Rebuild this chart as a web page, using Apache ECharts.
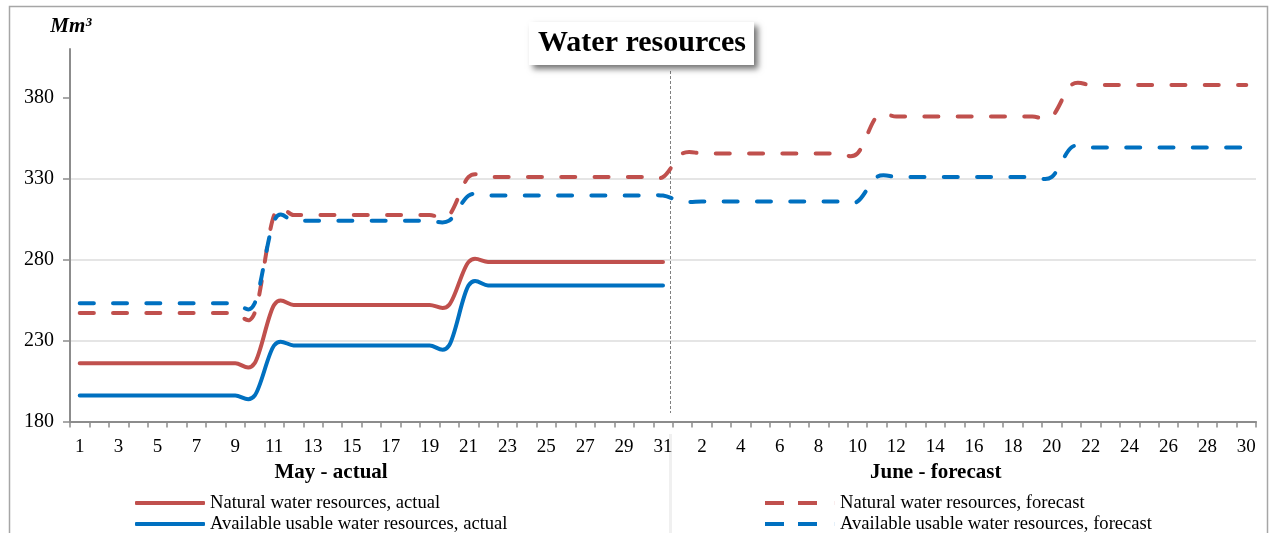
<!DOCTYPE html>
<html>
<head>
<meta charset="utf-8">
<title>Water resources</title>
<script src="https://cdn.jsdelivr.net/npm/echarts@6/dist/echarts.min.js"></script>
<style>
  html, body { margin: 0; padding: 0; background: #ffffff; }
  #chart { width: 1271px; height: 533px; }
</style>
</head>
<body>
<div id="chart"></div>
<script>
// Day labels for the two months on the category axis
const mayDays = ['1','2','3','4','5','6','7','8','9','10','11','12','13','14','15','16','17','18','19','20','21','22','23','24','25','26','27','28','29','30','31'];
const juneDays = ['1','2','3','4','5','6','7','8','9','10','11','12','13','14','15','16','17','18','19','20','21','22','23','24','25','26','27','28','29','30'];

// Volumes, Mm3 — actual values cover May only
const naturalActual = [
  216, 216, 216, 216, 216, 216, 216, 216, 216, 216,
  252, 252, 252, 252, 252, 252, 252, 252, 252, 252,
  278.5, 278.5, 278.5, 278.5, 278.5, 278.5, 278.5, 278.5, 278.5, 278.5, 278.5
];
const availableActual = [
  196, 196, 196, 196, 196, 196, 196, 196, 196, 196,
  227, 227, 227, 227, 227, 227, 227, 227, 227, 227,
  264, 264, 264, 264, 264, 264, 264, 264, 264, 264, 264
];
// Forecast values: May then June
const naturalForecast = [
  247, 247, 247, 247, 247, 247, 247, 247, 247, 247,
  307.5, 307.5, 307.5, 307.5, 307.5, 307.5, 307.5, 307.5, 307.5, 307.5,
  331, 331, 331, 331, 331, 331, 331, 331, 331, 331, 331,
  345.5, 345.5, 345.5, 345.5, 345.5, 345.5, 345.5, 345.5, 345.5, 345.5,
  368.3, 368.3, 368.3, 368.3, 368.3, 368.3, 368.3, 368.3, 368.3, 368.3,
  387.8, 387.8, 387.8, 387.8, 387.8, 387.8, 387.8, 387.8, 387.8, 387.8
];
const availableForecast = [
  253, 253, 253, 253, 253, 253, 253, 253, 253, 253,
  304, 304, 304, 304, 304, 304, 304, 304, 304, 304,
  319.5, 319.5, 319.5, 319.5, 319.5, 319.5, 319.5, 319.5, 319.5, 319.5, 319.5,
  315.8, 315.8, 315.8, 315.8, 315.8, 315.8, 315.8, 315.8, 315.8, 315.8,
  331, 331, 331, 331, 331, 331, 331, 331, 331, 331,
  349.2, 349.2, 349.2, 349.2, 349.2, 349.2, 349.2, 349.2, 349.2, 349.2
];

const yTicks = [180, 230, 280, 330, 380];
const seriesNames = [
  'Natural water resources, actual',
  'Available usable water resources, actual',
  'Natural water resources, forecast',
  'Available usable water resources, forecast'
];
const monthTitles = ['May - actual', 'June - forecast'];

const RED = '#C0504D';
const BLUE = '#0070C0';
const SERIF = '"Liberation Serif", "DejaVu Serif", serif';
const DASH = [14, 19.3];
// Legend glyphs: a solid bar and two dashes inside a 70px wide box
const ICON_SOLID = 'roundRect';
const ICON_DASHED = 'path://M0,0 H19 V4 H0 Z M33,0 H52 V4 H33 Z M69.9,0 H70 V4 H69.9 Z';

const categories = mayDays.map(d => 'May ' + d).concat(juneDays.map(d => 'Jun ' + d));
const dayLabel = categories.map(c => c.split(' ')[1]);

const chart = echarts.init(document.getElementById('chart'), null, { renderer: 'canvas' });

// Cardinal (Catmull-Rom) smoothing through every point, like a spreadsheet "smoothed line"
const TENSION = 1 / 6;
function smoothLineItem(color, dashed) {
  return function (params, api) {
    if (params.dataIndexInside !== 0) return null;
    const n = params.dataInsideLength;
    const pts = [];
    for (let j = 0; j < n; j++) {
      pts.push(api.coord([api.value(0, j), api.value(1, j)]));
    }
    let d = 'M' + pts[0][0] + ' ' + pts[0][1];
    for (let i = 0; i < n - 1; i++) {
      const p0 = pts[Math.max(i - 1, 0)];
      const p1 = pts[i];
      const p2 = pts[i + 1];
      const p3 = pts[Math.min(i + 2, n - 1)];
      const c1x = p1[0] + (p2[0] - p0[0]) * TENSION;
      const c1y = p1[1] + (p2[1] - p0[1]) * TENSION;
      const c2x = p2[0] - (p3[0] - p1[0]) * TENSION;
      const c2y = p2[1] - (p3[1] - p1[1]) * TENSION;
      d += ' C' + c1x + ' ' + c1y + ' ' + c2x + ' ' + c2y + ' ' + p2[0] + ' ' + p2[1];
    }
    return {
      type: 'path',
      shape: { pathData: d },
      style: {
        fill: 'none',
        stroke: color,
        lineWidth: 4,
        lineDash: dashed ? DASH : null,
        lineCap: 'round',
        lineJoin: 'round'
      }
    };
  };
}

function curveSeries(name, values, color, dashed) {
  return {
    name: name,
    type: 'custom',
    renderItem: smoothLineItem(color, dashed),
    data: values.map((v, i) => [i, v]),
    encode: { x: 0, y: 1 },
    itemStyle: { color: color },
    silent: true,
    animation: false
  };
}

const legendText = { fontFamily: SERIF, fontSize: 18.6, color: '#000', lineHeight: 21 };
function legendBlock(left, names, icon) {
  return {
    data: names.map(nm => ({ name: nm, icon: icon })),
    orient: 'vertical',
    left: left,
    top: 492.5,
    width: 480,
    height: 60,
    padding: 0,
    itemWidth: 70,
    itemHeight: 4,
    itemGap: 0,
    selectedMode: false,
    textStyle: legendText
  };
}

const option = {
  animation: false,
  backgroundColor: '#ffffff',
  title: {
    text: 'Water resources',
    left: 529,
    top: 22,
    padding: [6, 8, 6, 9],
    backgroundColor: '#ffffff',
    shadowColor: 'rgba(0,0,0,0.55)',
    shadowBlur: 6,
    shadowOffsetX: 4,
    shadowOffsetY: 4,
    textStyle: { fontFamily: SERIF, fontWeight: 'bold', fontSize: 30, color: '#000', lineHeight: 31 }
  },
  legend: [
    legendBlock(135, [seriesNames[0], seriesNames[1]], ICON_SOLID),
    legendBlock(765, [seriesNames[2], seriesNames[3]], ICON_DASHED)
  ],
  grid: { left: 70, right: 15, top: 49, bottom: 111.5, containLabel: false },
  xAxis: {
    type: 'category',
    data: categories,
    boundaryGap: true,
    axisLine: { lineStyle: { color: '#8c8c8c', width: 2 } },
    axisTick: { show: true, interval: 0, length: 6, lineStyle: { color: '#8c8c8c', width: 1.5 } },
    axisLabel: {
      interval: 1,
      margin: 16,
      fontFamily: SERIF,
      fontSize: 19,
      color: '#000',
      formatter: (v, i) => dayLabel[i]
    },
    splitLine: { show: false }
  },
  yAxis: {
    type: 'value',
    min: 180,
    max: 410,
    interval: 50,
    name: 'Mm³',
    nameLocation: 'end',
    nameGap: 12,
    nameTextStyle: { fontFamily: SERIF, fontWeight: 'bold', fontStyle: 'italic', fontSize: 21, color: '#000', align: 'center', padding: [0, 0, 0, 2] },
    axisLine: { show: true, lineStyle: { color: '#8c8c8c', width: 2 } },
    axisTick: { show: true, length: 7, customValues: yTicks, lineStyle: { color: '#8c8c8c', width: 1.5 } },
    axisLabel: { margin: 16, customValues: yTicks, fontFamily: SERIF, fontSize: 20, color: '#000' },
    splitLine: { show: true, showMaxLine: false, showMinLine: false, lineStyle: { color: '#dcdcdc', width: 1.5 } }
  },
  series: [
    curveSeries(seriesNames[0], naturalActual, RED, false),
    curveSeries(seriesNames[1], availableActual, BLUE, false),
    curveSeries(seriesNames[2], naturalForecast, RED, true),
    curveSeries(seriesNames[3], availableForecast, BLUE, true)
  ]
};

chart.setOption(option);

// Divider between the actual month and the forecast month, plus frame and month captions
const xLast = chart.convertToPixel({ xAxisIndex: 0 }, mayDays.length - 1);
const xFirst = chart.convertToPixel({ xAxisIndex: 0 }, mayDays.length);
const xDiv = Math.round((xLast + xFirst) / 2) - 2.5;
const mayCaptionX = chart.convertToPixel({ xAxisIndex: 0 }, 13) - 1.4;
const juneCaptionX = chart.convertToPixel({ xAxisIndex: 0 }, 44) + 0.5;

chart.setOption({
  graphic: [
    {
      type: 'rect',
      silent: true,
      z: -10,
      shape: { x: 9.5, y: 6.5, width: 1258, height: 600 },
      style: { fill: 'none', stroke: '#a6a6a6', lineWidth: 1.5 }
    },
    {
      type: 'line',
      silent: true,
      z: 1,
      shape: { x1: xDiv, y1: 71, x2: xDiv, y2: 413 },
      style: { stroke: '#7f7f7f', lineWidth: 1, lineDash: [3, 2] }
    },
    {
      type: 'line',
      silent: true,
      z: -5,
      shape: { x1: xDiv, y1: 434, x2: xDiv, y2: 533 },
      style: { stroke: '#f0f0f0', lineWidth: 3 }
    },
    {
      type: 'text',
      silent: true,
      x: mayCaptionX,
      y: 473,
      style: { text: monthTitles[0], font: 'bold 21px ' + SERIF, fill: '#000', align: 'center', verticalAlign: 'middle' }
    },
    {
      type: 'text',
      silent: true,
      x: juneCaptionX,
      y: 473,
      style: { text: monthTitles[1], font: 'bold 21px ' + SERIF, fill: '#000', align: 'center', verticalAlign: 'middle' }
    }
  ]
});
</script>
</body>
</html>
